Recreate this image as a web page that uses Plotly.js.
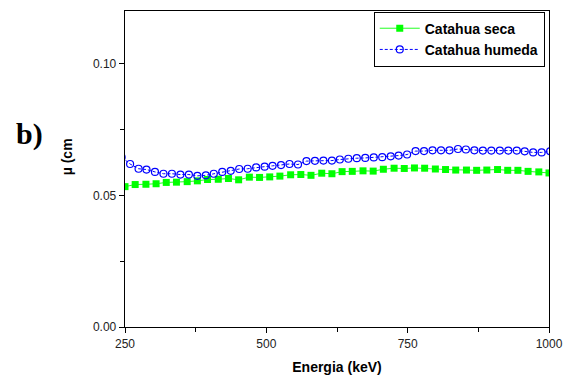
<!DOCTYPE html>
<html>
<head>
<meta charset="utf-8">
<script src="https://cdn.plot.ly/plotly-3.0.1.min.js"></script>
<style>html,body{margin:0;padding:0;background:#fff;}#chart{width:569px;height:376px;}</style>
</head>
<body>
<div id="chart"></div>
<script>
// Catahua seca (dry) - energy (keV)
var secaEnergy = [250, 268, 287, 305, 323, 341, 360, 378, 396, 415, 433, 451, 470, 488, 506, 524, 543, 561, 579, 598, 616, 634, 652, 671, 689, 707, 726, 744, 762, 780, 799, 817, 835, 854, 872, 890, 909, 927, 945, 963, 982, 1000];
var secaMu = [0.0533, 0.0541, 0.0542, 0.0544, 0.0549, 0.0550, 0.0552, 0.0555, 0.0560, 0.0561, 0.0564, 0.0559, 0.0569, 0.0568, 0.0570, 0.0573, 0.0578, 0.0579, 0.0576, 0.0584, 0.0582, 0.0590, 0.0591, 0.0593, 0.0592, 0.0599, 0.0603, 0.0602, 0.0604, 0.0603, 0.0600, 0.0598, 0.0596, 0.0596, 0.0595, 0.0596, 0.0598, 0.0595, 0.0595, 0.0591, 0.0589, 0.0585];

// Catahua humeda (wet)
var humedaEnergy = [244, 259, 274, 288, 303, 318, 333, 348, 363, 378, 393, 407, 422, 437, 452, 467, 482, 497, 511, 526, 541, 556, 571, 586, 601, 616, 630, 645, 660, 675, 690, 705, 720, 734, 749, 764, 779, 794, 809, 824, 839, 853, 868, 883, 898, 913, 928, 943, 957, 972, 987, 1002];
var humedaMu = [0.0645, 0.0619, 0.0601, 0.0598, 0.0589, 0.0582, 0.0582, 0.0579, 0.0579, 0.0574, 0.0576, 0.0582, 0.0589, 0.0593, 0.0600, 0.0601, 0.0606, 0.0609, 0.0612, 0.0615, 0.0619, 0.0617, 0.0630, 0.0631, 0.0632, 0.0632, 0.0636, 0.0639, 0.0641, 0.0642, 0.0644, 0.0645, 0.0648, 0.0651, 0.0655, 0.0668, 0.0668, 0.0671, 0.0671, 0.0671, 0.0676, 0.0674, 0.0671, 0.0670, 0.0670, 0.0670, 0.0670, 0.0670, 0.0667, 0.0663, 0.0663, 0.0667];

var seriesNames = ["Catahua seca", "Catahua humeda"];
var xTitle = "Energia (keV)";
var yTitle = "µ (cm";
var panelLabel = "b)";

var font = "Arial, 'Liberation Sans', sans-serif";

var traces = [
  {
    x: secaEnergy, y: secaMu, name: seriesNames[0],
    type: "scatter", mode: "lines+markers",
    line: {color: "#22ff22", width: 1},
    marker: {symbol: "square", size: 7, color: "#00ff00", line: {width: 0}}
  },
  {
    x: humedaEnergy, y: humedaMu, name: seriesNames[1],
    type: "scatter", mode: "lines+markers",
    line: {color: "#0000ff", width: 1, dash: "3px,2px"},
    marker: {symbol: "circle-open", size: 7, color: "#0000ff", line: {width: 1.2, color: "#0000ff"}}
  }
];

var layout = {
  width: 569, height: 376,
  margin: {l: 125, r: 20, t: 11, b: 49},
  paper_bgcolor: "#ffffff", plot_bgcolor: "#ffffff",
  showlegend: true,
  font: {family: font, color: "#000000", size: 12},
  xaxis: {
    range: [250, 1000], tick0: 250, dtick: 250,
    showgrid: false, zeroline: false,
    showline: true, linecolor: "#000", linewidth: 1.3, mirror: true,
    ticks: "outside", ticklen: 5, tickwidth: 1, tickcolor: "#000",
    minor: {dtick: 125, tick0: 250, ticks: "outside", ticklen: 4, tickcolor: "#000", showgrid: false},
    tickfont: {family: font, size: 12, color: "#222"},
    title: {text: xTitle, font: {family: font, size: 14, color: "#000", weight: "bold"}, standoff: 12}
  },
  yaxis: {
    range: [0, 0.12], tick0: 0, dtick: 0.05, tickformat: ".2f",
    showgrid: false, zeroline: false,
    showline: true, linecolor: "#000", linewidth: 1.3, mirror: true,
    ticks: "outside", ticklen: 5, tickwidth: 1, tickcolor: "#000",
    minor: {dtick: 0.025, tick0: 0, ticks: "outside", ticklen: 4, tickcolor: "#000", showgrid: false},
    tickfont: {family: font, size: 12, color: "#222"}
  },
  legend: {
    x: 0.99, y: 0.998, xanchor: "right", yanchor: "top",
    bgcolor: "#ffffff", bordercolor: "#000", borderwidth: 1,
    font: {family: font, size: 14, color: "#000", weight: "bold"},
    tracegroupgap: 0, itemwidth: 40
  },
  annotations: [
    {text: yTitle, xref: "paper", yref: "paper", x: -0.137, y: 0.54, xanchor: "center", yanchor: "middle",
     textangle: -90, showarrow: false, font: {family: font, size: 14, color: "#000", weight: "bold"}},
    {text: panelLabel, xref: "paper", yref: "paper", x: -0.225, y: 0.61, xanchor: "center", yanchor: "middle",
     showarrow: false, font: {family: "'Liberation Serif', 'Times New Roman', serif", size: 30, color: "#000", weight: "bold"}}
  ]
};

Plotly.newPlot("chart", traces, layout, {displayModeBar: false, staticPlot: true});
</script>
</body>
</html>
